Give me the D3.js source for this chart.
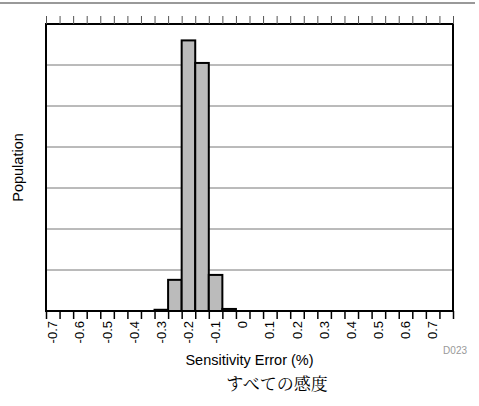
<!DOCTYPE html>
<html lang="ja">
<head>
<meta charset="UTF-8">
<title>Sensitivity Error</title>
<style>
    body { margin: 0; background: #fff; }
    svg text { font-family: "Liberation Sans", Arial, sans-serif; }
</style>
</head>
<body>
<div id="chart"></div>
<script src="https://d3js.org/d3.v7.min.js"></script>
<script>
// bin centres (%), population per bin (arbitrary units 0-70)
const binCenters = [-0.3, -0.25, -0.2, -0.15, -0.1, -0.05];
const binCounts = [0.3, 7.6, 66, 60.5, 8.8, 0.5];
const binWidth = 0.05;
const tickLabels = [-0.7, -0.6, -0.5, -0.4, -0.3, -0.2, -0.1, 0, 0.1, 0.2, 0.3, 0.4, 0.5, 0.6, 0.7];
const gridValues = [10, 20, 30, 40, 50, 60];

const W = 479, H = 406;
const margin = {top: 24, right: 26, bottom: 95, left: 46};
const width = W - margin.left - margin.right;
const height = H - margin.top - margin.bottom;

const svg = d3.select("#chart").append("svg")
    .attr("width", W)
    .attr("height", H);

// thin rule at the very top
svg.append("line")
    .attr("x1", 0).attr("x2", 475)
    .attr("y1", 3).attr("y2", 3)
    .attr("stroke", "#777").attr("stroke-width", 1.5);

const g = svg.append("g")
    .attr("transform", "translate(" + margin.left + "," + margin.top + ")");

// bins are 0.05 wide, labels sit in the middle of every other bin
const x = d3.scaleLinear().domain([-0.725, 0.775]).range([0, width]);
const y = d3.scaleLinear().domain([0, 70]).range([height, 0]);

const edgeTicks = d3.range(0, 31).map(k => +(-0.725 + 0.05 * k).toFixed(3));

// grid
g.selectAll(".grid")
    .data(gridValues)
    .enter().append("line")
    .attr("x1", 0).attr("x2", width)
    .attr("y1", d => y(d)).attr("y2", d => y(d))
    .attr("stroke", "#777").attr("stroke-width", 1);

// bars
g.selectAll("rect.bar")
    .data(binCenters)
    .enter().append("rect")
    .attr("class", "bar")
    .attr("x", d => x(d - binWidth / 2))
    .attr("width", d => x(d + binWidth / 2) - x(d - binWidth / 2))
    .attr("y", (d, i) => y(binCounts[i]))
    .attr("height", (d, i) => height - y(binCounts[i]))
    .attr("fill", "#bbbbbb")
    .attr("stroke", "#000")
    .attr("stroke-width", 2);

// frame
g.append("rect")
    .attr("width", width).attr("height", height)
    .attr("fill", "none")
    .attr("stroke", "#000")
    .attr("stroke-width", 2);

// top ticks
g.append("g")
    .call(d3.axisTop(x).tickValues(edgeTicks).tickSize(8).tickFormat(""))
    .call(a => a.select(".domain").remove())
    .selectAll("line").attr("stroke", "#555");

// bottom ticks and labels
const xAxis = g.append("g")
    .attr("transform", "translate(0," + height + ")");
xAxis.call(d3.axisBottom(x).tickValues(edgeTicks).tickSize(8).tickFormat(""))
    .call(a => a.select(".domain").remove())
    .selectAll("line").attr("stroke", "#000").attr("stroke-width", 1.5);

xAxis.selectAll(".lbl")
    .data(tickLabels)
    .enter().append("text")
    .attr("class", "lbl")
    .attr("transform", d => "translate(" + x(d) + ",10) rotate(-90)")
    .attr("dy", "0.35em")
    .attr("text-anchor", "end")
    .attr("font-size", 13)
    .attr("fill", "#000")
    .text(d => d === 0 ? "0" : d.toFixed(1));

// axis titles
svg.append("text")
    .attr("x", margin.left + width / 2)
    .attr("y", 365)
    .attr("text-anchor", "middle")
    .attr("font-size", 14.5)
    .text("Sensitivity Error (%)");

svg.append("text")
    .attr("transform", "translate(23," + (margin.top + height / 2) + ") rotate(-90)")
    .attr("text-anchor", "middle")
    .attr("font-size", 14.5)
    .text("Population");

svg.append("text")
    .attr("x", 467)
    .attr("y", 354)
    .attr("text-anchor", "end")
    .attr("font-size", 10)
    .attr("fill", "#999")
    .text("D023");

svg.append("text")
    .attr("x", 277)
    .attr("y", 390)
    .attr("text-anchor", "middle")
    .attr("font-size", 17)
    .style("font-family", "'Noto Serif CJK JP', 'Noto Sans CJK JP', serif")
    .text("すべての感度");
</script>
</body>
</html>
